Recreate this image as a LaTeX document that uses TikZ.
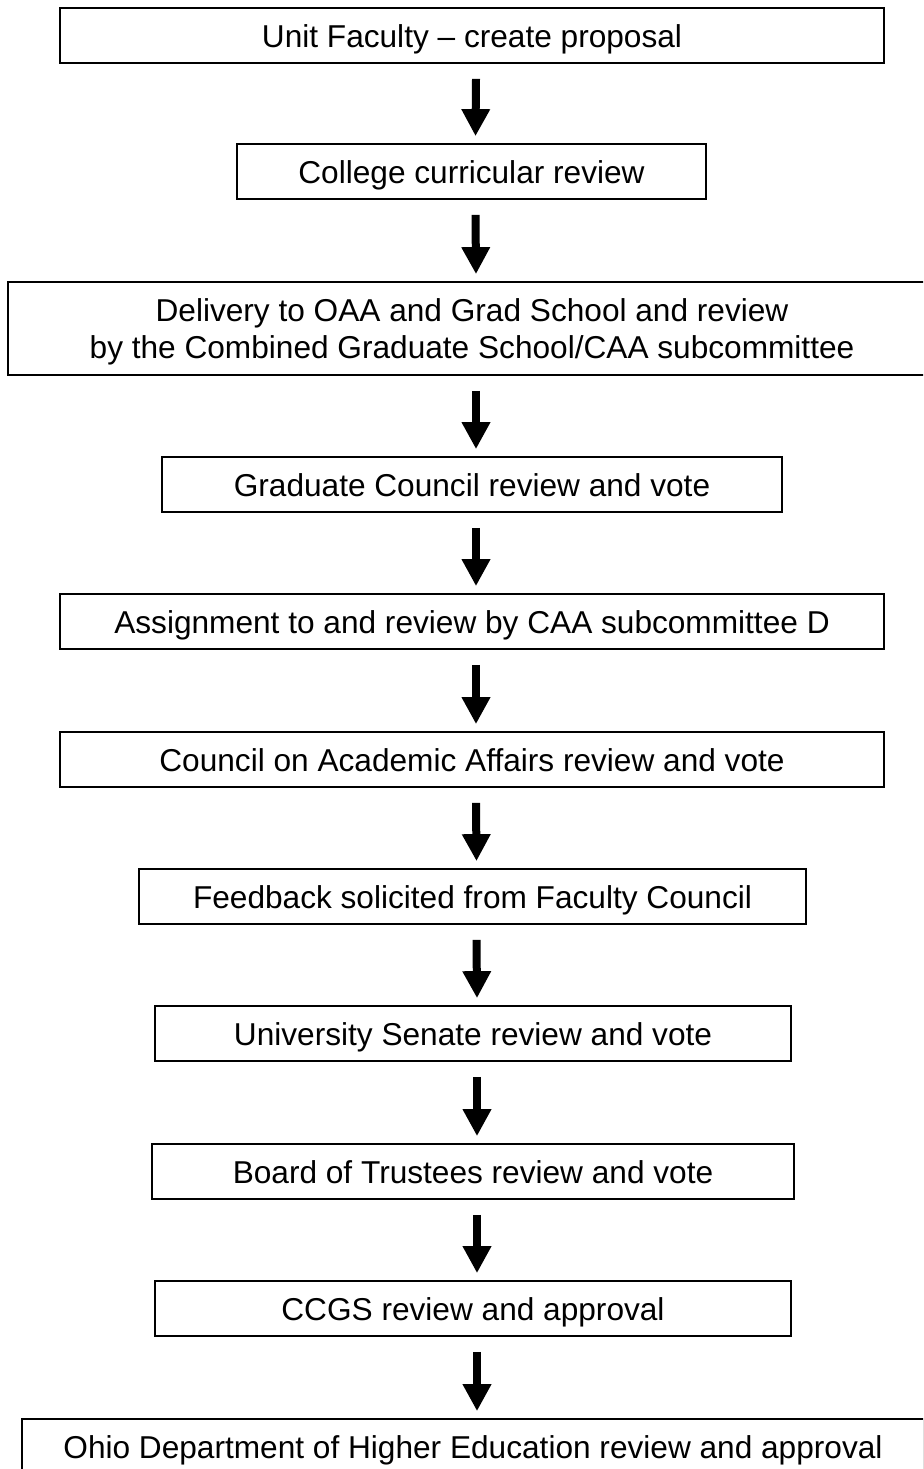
\documentclass[tikz,border=0pt]{standalone}
\usepackage{fontspec}
\setmainfont{Liberation Sans}
\usetikzlibrary{arrows.meta}

\tikzset{
  stage/.style={draw, line width=1pt, minimum height=1.1cm, inner sep=0pt,
    text height=0.48cm, text depth=0pt, align=center,
    font=\fontsize{18pt}{21pt}\selectfont},
  flow/.style={line width=0.16cm, -{Triangle[width=0.54cm,length=0.54cm]}}
}

\begin{document}
\begin{tikzpicture}[x=0.02cm,y=-0.02cm]
    \useasboundingbox (0,0) rectangle (923,1469);
    \clip (0,0) rectangle (923,1469);
    \fill[white] (0,0) rectangle (923,1469);
    \node[stage,minimum width=16.48cm] (unit) at (472,35.5) {Unit Faculty -- create proposal};
    \node[stage,minimum width=9.38cm] (college) at (471.5,171.5) {College curricular review};
    \node[stage,minimum width=18.56cm,minimum height=1.86cm,text height=,text depth=0pt] (delivery) at (472,328.5)
      {Delivery to OAA and Grad School and review\\by the Combined Graduate School/CAA subcommittee};
    \node[stage,minimum width=12.4cm] (gradcouncil) at (472,484.5) {Graduate Council review and vote};
    \node[stage,minimum width=16.48cm] (assign) at (472,621.5) {Assignment to and review by CAA subcommittee D};
    \node[stage,minimum width=16.48cm] (caa) at (472,759.5) {Council on Academic Affairs review and vote};
    \node[stage,minimum width=13.34cm] (feedback) at (472.5,896.5) {Feedback solicited from Faculty Council};
    \node[stage,minimum width=12.72cm] (senate) at (473,1033.5) {University Senate review and vote};
    \node[stage,minimum width=12.84cm] (trustees) at (473,1171.5) {Board of Trustees review and vote};
    \node[stage,minimum width=12.72cm] (ccgs) at (473,1308.5) {CCGS review and approval};
    \node[stage,minimum width=18.04cm] (ohio) at (473,1446.5) {Ohio Department of Higher Education review and approval};
    % arrows between the stages
    \foreach \a/\b in {unit/college,college/delivery,delivery/gradcouncil,gradcouncil/assign,
      assign/caa,caa/feedback,feedback/senate,senate/trustees,trustees/ccgs,ccgs/ohio}
      \draw[flow] ([xshift=0.08cm,yshift=-0.3cm]\a.south) -- ([xshift=0.08cm,yshift=0.14cm]\b.north);
\end{tikzpicture}
\end{document}
